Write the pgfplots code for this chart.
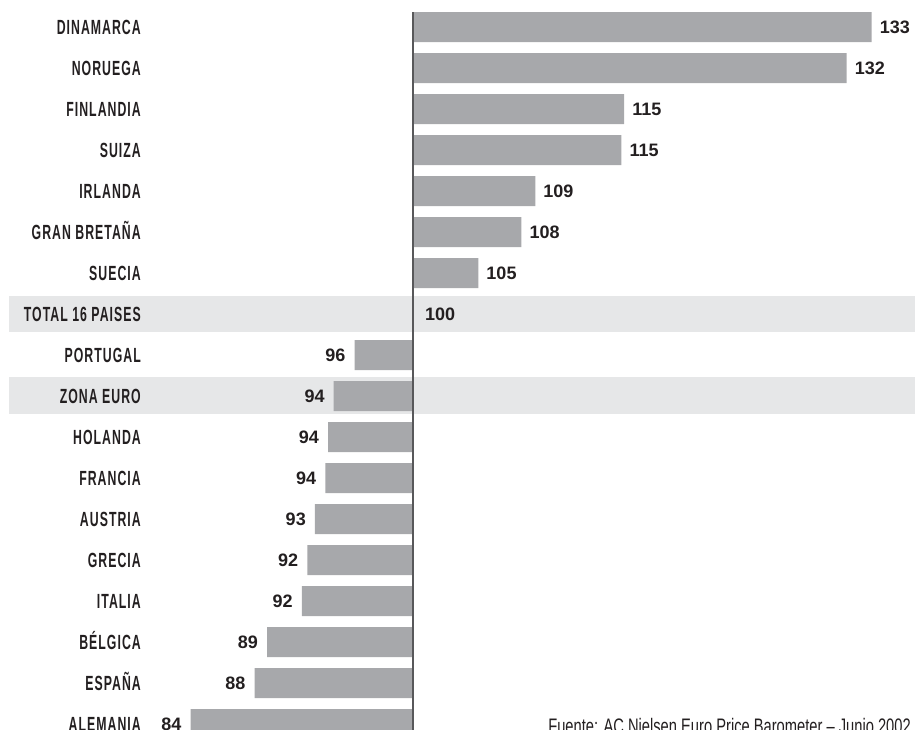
\documentclass[border=0pt]{standalone}
\usepackage{pgfplots}
\pgfplotsset{compat=1.18}
\usepackage{pgfplotstable}
\usepackage{fontspec}
\setmainfont{Liberation Sans}
\newfontfamily\condb{Liberation Sans}[FakeStretch=0.6,LetterSpace=5]
\newfontfamily\condl{Liberation Sans}[FakeStretch=0.7]
\definecolor{barcol}{HTML}{A7A8AB}
\definecolor{bandcol}{HTML}{E6E7E8}
\definecolor{linecol}{HTML}{58585A}
\definecolor{txt}{HTML}{231F20}

\pgfplotstableread{
y v lab
17 133.0 133
16 131.2 132
15 115.2 115
14 115.0 115
13 108.8 109
12 107.8 108
11 104.7 105
}\pos
\pgfplotstableread{
y v lab
10 100.0 100
}\tot
\pgfplotstableread{
y v lab
9 95.8 96
8 94.3 94
7 93.9 94
6 93.7 94
5 92.95 93
4 92.4 92
3 92.0 92
2 89.5 89
1 88.6 88
0 84.0 84
}\neg

\begin{document}
\begin{tikzpicture}
% highlight bands behind the rows TOTAL 16 PAISES and ZONA EURO
\fill[bandcol] (9pt,398pt) rectangle (915pt,434pt);
\fill[bandcol] (9pt,316pt) rectangle (915pt,353pt);
\begin{axis}[
  at={(0pt,0pt)}, anchor=south west,
  scale only axis, width=915pt, height=730pt,
  xmin=-29.71, xmax=36.12, ymin=-0.146, ymax=17.659,
  axis line style={draw=none}, major tick length=0pt,
  xtick=\empty,
  ytick={0,...,17},
  yticklabels={ALEMANIA, ESPAÑA, BÉLGICA, ITALIA, GRECIA, AUSTRIA, FRANCIA, HOLANDA, ZONA EURO, PORTUGAL, TOTAL 16 PAISES, SUECIA, GRAN BRETAÑA, IRLANDA, SUIZA, FINLANDIA, NORUEGA, DINAMARCA},
  yticklabel style={anchor=east, xshift=141pt, inner sep=0pt, text height=14.7pt, text depth=0pt, text=txt, font=\condb\bfseries\fontsize{20.5}{20.5}\selectfont},
  xbar, bar shift=0pt, bar width=30pt,
  point meta=explicit symbolic,
  nodes near coords,
  every node near coord/.append style={inner sep=0pt, text height=12.6pt, text depth=0pt, text=txt, font=\bfseries\fontsize{18}{18}\selectfont},
  clip=false,
]
\addplot[fill=barcol, draw=none, nodes near coords style={anchor=west, xshift=8pt}] table[x expr=\thisrow{v}-100, y=y, meta=lab]{\pos};
\addplot[fill=barcol, draw=none, nodes near coords style={anchor=west, xshift=12pt}] table[x expr=\thisrow{v}-100, y=y, meta=lab]{\tot};
\addplot[fill=barcol, draw=none, nodes near coords style={anchor=east, xshift=-9pt}] table[x expr=\thisrow{v}-100, y=y, meta=lab]{\neg};
\draw[linecol, line width=2pt] (axis cs:0,-0.146) -- (axis cs:0,17.366);
\node[anchor=base west, inner sep=0pt, text=txt, font=\condl\fontsize{21}{21}\selectfont] at (rel axis cs:0.599,-0.0055) {Fuente: AC Nielsen Euro Price Barometer – Junio 2002};
\end{axis}
\pgfresetboundingbox
\path[use as bounding box] (current axis.south west) rectangle (current axis.north east);
\end{tikzpicture}
\end{document}
